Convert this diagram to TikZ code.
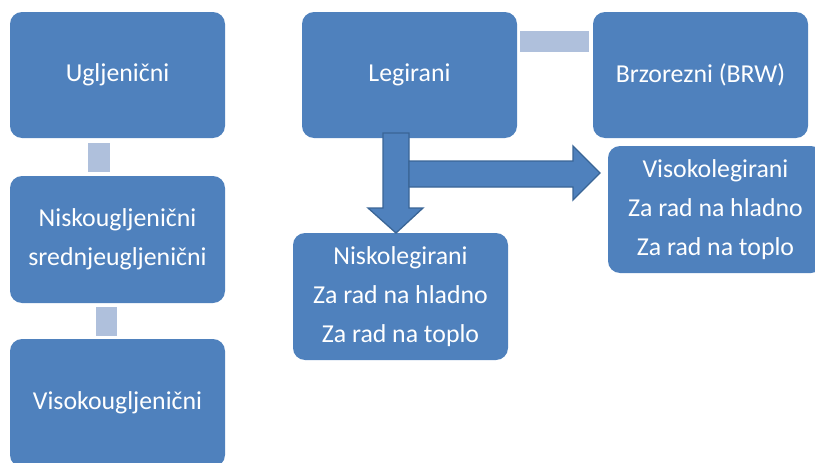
\documentclass[tikz,border=0pt]{standalone}
\usepackage{fontspec}
\setmainfont{Carlito}
\definecolor{boxblue}{HTML}{4F81BD}
\definecolor{connblue}{HTML}{AFC0DC}
\definecolor{edgeblue}{HTML}{3A6596}
\begin{document}
\begin{tikzpicture}[x=1pt,y=-1pt,
  box/.style={fill=boxblue, draw=none, rounded corners=12pt, minimum width=215pt, minimum height=126pt,
    inner sep=0pt, text=white, align=center, font=\fontsize{25.8}{39}\selectfont},
  conn/.style={draw=connblue},
  bigarrow/.style={fill=boxblue, draw=edgeblue, line width=1.3pt, line join=miter}]
\useasboundingbox (0,0) rectangle (815,463);
\clip (0,0) rectangle (815,463);
% left column
\node[box] (ugl) at (117.5,75) {Ugljenični};
\node[box, minimum height=127pt] (nis) at (117.5,239.5) {Niskougljenični\\srednjeugljenični};
\node[box, minimum height=128pt] (vis) at (117.5,403) {Visokougljenični};
% right part
\node[box] (leg) at (409.5,75) {Legirani};
\node[box] (brw) at (700.5,75) {Brzorezni (BRW)};
\node[box, minimum height=127pt] (vleg) at (715.5,209.5) {Visokolegirani\\Za rad na hladno\\Za rad na toplo};
\node[box, minimum height=127pt] (nleg) at (400.5,296.5) {Niskolegirani\\Za rad na hladno\\Za rad na toplo};
% light connectors
\draw[conn, line width=22pt] ([shift={(-18.5pt,-5pt)}]ugl.south) -- ([shift={(-18.5pt,4pt)}]nis.north);
\draw[conn, line width=21pt] ([shift={(-11pt,-4pt)}]nis.south) -- ([shift={(-11pt,3pt)}]vis.north);
\draw[conn, line width=21pt] ([shift={(3pt,33.5pt)}]leg.east) -- ([shift={(-4pt,33.5pt)}]brw.west);
% block arrows
\coordinate (dtip) at (396,233);
\coordinate (rtip) at (600,173);
\draw[bigarrow] (383,133) -- (409,133) -- (409,208) -- (423,208) -- (dtip) -- (368,208) -- (383,208) -- cycle;
\draw[bigarrow] (409,161) -- (573,161) -- (573,146) -- (rtip) -- (573,200) -- (573,187) -- (409,187) -- cycle;
\end{tikzpicture}
\end{document}
